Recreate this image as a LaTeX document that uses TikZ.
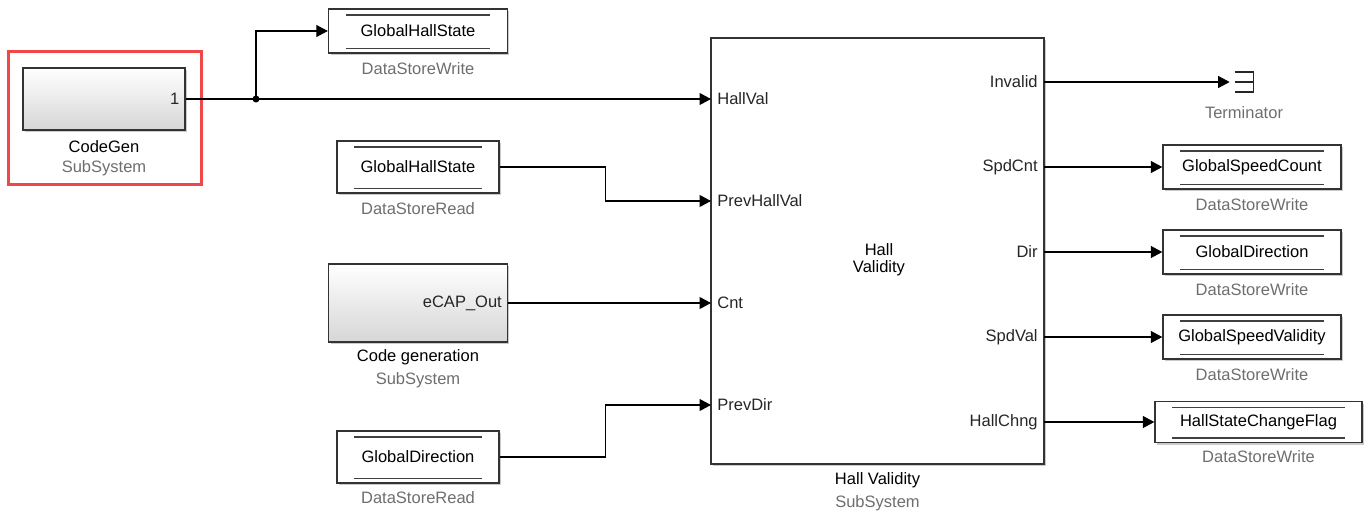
\documentclass[tikz,border=0pt]{standalone}
\usepackage{fontspec}
\setmainfont{Liberation Sans}
\usepackage{tikz}
\usetikzlibrary{calc,positioning,arrows.meta,shadows}
\tikzset{sig/.style={line width=0.6pt, -{Triangle[length=0.23cm,width=0.24cm]}}}
\tikzset{shadowed/.style={drop shadow={shadow xshift=0.04cm, shadow yshift=-0.04cm, fill=black!35, opacity=0.6}}}
\definecolor{hilite}{RGB}{240,72,72}
\definecolor{typegray}{RGB}{110,110,110}

\begin{document}
\begin{tikzpicture}[
  x=0.02cm,y=-0.02cm,
  font=\fontsize{9.4}{9.6}\selectfont,
  subsys/.style={draw=black!80, line width=0.8pt, top color=white, bottom color=black!16, shadowed, inner sep=0pt},
  hvblock/.style={draw=black!80, line width=0.8pt, fill=white, shadowed, inner sep=0pt,
                  minimum width=6.66cm, minimum height=8.52cm},
  dstore/.style={draw=black!80, line width=0.8pt, fill=white, shadowed, inner sep=0pt,
                 minimum width=3.56cm, minimum height=0.88cm,
                 path picture={
                   \draw[black!75, line width=0.65pt]
                     ([xshift=0.34cm,yshift=-0.12cm]path picture bounding box.north west) --
                     ([xshift=-0.34cm,yshift=-0.12cm]path picture bounding box.north east)
                     ([xshift=0.34cm,yshift=0.09cm]path picture bounding box.south west) --
                     ([xshift=-0.34cm,yshift=0.09cm]path picture bounding box.south east);
                 }},
  hilitebox/.style={draw=hilite, line width=1.7pt, fill=none, inner sep=0pt},
  port/.style={inner xsep=0.12cm, inner ysep=0pt, text=black!85},
  blkname/.style={inner sep=0pt, text=black},
  blktype/.style={inner sep=0pt, text=typegray}
]
  \useasboundingbox (0,0) rectangle (1367,514);

  % highlighted code generation subsystem
  \node[hilitebox, minimum width=3.88cm, minimum height=2.68cm] (sel) at (105,118) {};
  \node[subsys, minimum width=3.24cm, minimum height=1.24cm] (cg) at (104,99) {};
  \node[port, anchor=east] (cgOut) at (cg.east) {1};
  \node[blkname] (cgName) at ($(cg.south)+(0,16)$) {CodeGen};
  \node[blktype] (cgType) at ($(cg.south)+(0,38)$) {SubSystem};

  % data stores on the left
  \node[dstore, minimum width=3.58cm] (dswHall) at (418,31) {GlobalHallState};
  \node[blktype] (dswHallLbl) at ($(dswHall.south)+(0,15)$) {DataStoreWrite};

  \node[dstore, minimum width=3.24cm, minimum height=1.04cm] (dsrHall) at (418,167) {GlobalHallState};
  \node[blktype] (dsrHallLbl) at ($(dsrHall.south)+(0,15)$) {DataStoreRead};

  \node[subsys, minimum width=3.58cm, minimum height=1.56cm] (cgen) at (418,303) {};
  \node[port, anchor=east] (cgenOut) at (cgen.east) {eCAP\_Out};
  \node[blkname] (cgenName) at ($(cgen.south)+(0,15)$) {Code generation};
  \node[blktype] (cgenType) at ($(cgen.south)+(0,38)$) {SubSystem};

  \node[dstore, minimum width=3.24cm, minimum height=1.04cm] (dsrDir) at (418,457) {GlobalDirection};
  \node[blktype] (dsrDirLbl) at ($(dsrDir.south)+(0,14)$) {DataStoreRead};

  % hall validity subsystem
  \node[hvblock] (hv) at (877.5,251) {};
  \node[blkname, align=center] (hvText) at (879,260) {Hall\\Validity};
  \node[blkname] (hvName) at ($(hv.south)+(0,16)$) {Hall Validity};
  \node[blktype] (hvType) at ($(hv.south)+(0,39)$) {SubSystem};

  \foreach \p/\y in {HallVal/99, PrevHallVal/201, Cnt/303, PrevDir/405}
    \node[port, anchor=west] (in\p) at (711,\y) {\p};
  \foreach \p/\y in {Invalid/82, SpdCnt/167, Dir/252, SpdVal/337, HallChng/422}
    \node[port, anchor=east] (out\p) at (1044,\y) {\p};

  % outputs on the right
  \node[minimum width=0.36cm, minimum height=0.38cm, inner sep=0pt] (term) at (1244,82) {};
  \draw[line width=0.8pt, black!85] (term.north west) -- (term.north east) -- (term.south east) -- (term.south west)
    (term.west) -- (term.east);
  \node[blktype] (termLbl) at ($(term.south)+(0,21)$) {Terminator};

  \foreach \n/\t/\y in {Cnt/GlobalSpeedCount/167, Dir/GlobalDirection/252, Val/GlobalSpeedValidity/337} {
    \node[dstore] (dsw\n) at (1252,\y) {\t};
    \node[blktype] (dsw\n Lbl) at ($(dsw\n.south)+(0,15)$) {DataStoreWrite};
  }
  \node[dstore, minimum width=4.14cm, minimum height=0.82cm] (dswFlag) at (1258.5,422) {HallStateChangeFlag};
  \node[blktype] (dswFlagLbl) at ($(dswFlag.south)+(0,13)$) {DataStoreWrite};

  % signals
  \coordinate (jn) at (256,99);
  \draw[sig] (cgOut.east) -- (inHallVal.west);
  \fill (jn) circle (0.07cm);
  \draw[sig] (jn) |- (dswHall.west);
  \draw[sig] (dsrHall.east) -| ($(dsrHall.east)!.5!(inPrevHallVal.west)$) |- (inPrevHallVal.west);
  \draw[sig] (cgenOut.east) -- (inCnt.west);
  \draw[sig] (dsrDir.east) -| ($(dsrDir.east)!.5!(inPrevDir.west)$) |- (inPrevDir.west);

  \draw[sig] (outInvalid.east) -- ([xshift=-0.1cm]term.west);
  \draw[sig] (outSpdCnt.east) -- (dswCnt.west);
  \draw[sig] (outDir.east) -- (dswDir.west);
  \draw[sig] (outSpdVal.east) -- (dswVal.west);
  \draw[sig] (outHallChng.east) -- (dswFlag.west);
\end{tikzpicture}
\end{document}
